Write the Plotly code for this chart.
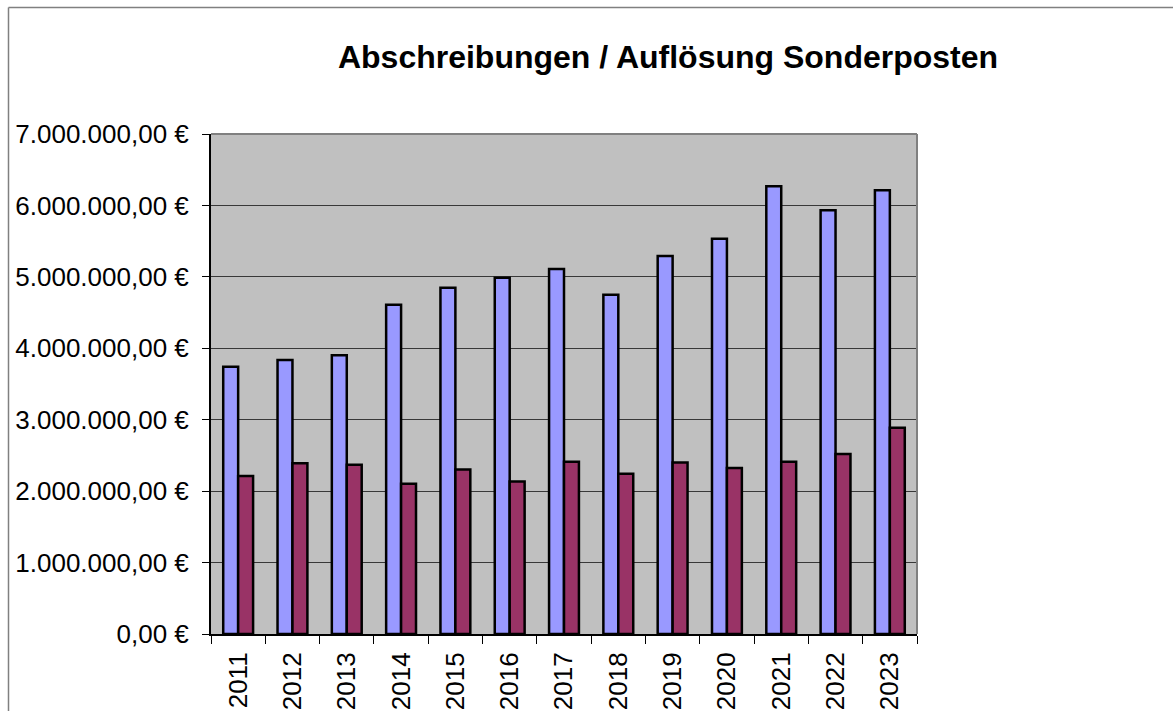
import plotly.graph_objects as go

years = ["2011", "2012", "2013", "2014", "2015", "2016", "2017", "2018", "2019", "2020", "2021", "2022", "2023"]
abschreibungen = [3743000, 3837000, 3904000, 4608000, 4849000, 4986000, 5109000, 4749000, 5293000, 5534000, 6267000, 5931000, 6214000]
aufloesung = [2212000, 2391000, 2368000, 2103000, 2302000, 2136000, 2410000, 2245000, 2401000, 2325000, 2410000, 2519000, 2888000]
y_ticks = [0, 1000000, 2000000, 3000000, 4000000, 5000000, 6000000, 7000000]
title_text = "Abschreibungen / Auflösung Sonderposten"


def euro(v):
    s = f"{v:,.2f}"
    s = s.replace(",", "X").replace(".", ",").replace("X", ".")
    return s + " €"


y_labels = [euro(v) for v in y_ticks]

W, H = 1173, 711
L, R, T, B = 211, 917, 134, 634


def px(x):
    return (x - L) / (R - L)


def py(y):
    return (B - y) / (B - T)


font_family = "Liberation Sans, Arial, sans-serif"

fig = go.Figure()
fig.add_trace(go.Bar(x=years, y=abschreibungen, name="Abschreibungen",
                     marker=dict(color="#9999ff", line=dict(color="#000000", width=2.5))))
fig.add_trace(go.Bar(x=years, y=aufloesung, name="Auflösung Sonderposten",
                     marker=dict(color="#993366", line=dict(color="#000000", width=2.5))))

fig.update_layout(
    width=W, height=H,
    autosize=False,
    margin=dict(l=L, r=W - R, t=T, b=H - B, pad=0, autoexpand=False),
    paper_bgcolor="#ffffff",
    plot_bgcolor="#c0c0c0",
    barmode="group",
    bargap=0.45,
    bargroupgap=0,
    showlegend=False,
    font=dict(family=font_family, color="#000000", size=26),
    title=dict(text="<b>" + title_text + "</b>", x=668 / W, y=1 - 57 / H,
               xanchor="center", yanchor="middle", xref="container", yref="container",
               automargin=False,
               font=dict(size=32, family=font_family, color="#000000")),
)

fig.update_yaxes(
    range=[0, 7000000], tickvals=y_ticks, ticktext=y_labels,
    showgrid=True, gridcolor="#383838", gridwidth=1,
    showline=True, linecolor="#000000", linewidth=2,
    ticks="outside", ticklen=7, tickcolor="#000000", tickwidth=1,
    ticklabelstandoff=8, automargin=False,
    tickfont=dict(size=26, family=font_family, color="#000000"),
    zeroline=False, fixedrange=True,
)
fig.update_xaxes(
    type="category", tickangle=-90, tickson="boundaries",
    showline=True, linecolor="#000000", linewidth=2,
    ticks="outside", ticklen=8, tickcolor="#000000", tickwidth=1,
    ticklabelstandoff=6, automargin=False,
    tickfont=dict(size=26, family=font_family, color="#000000"),
    showgrid=False, fixedrange=True,
)

# plot-area border (top and right), gray
fig.add_shape(type="line", xref="paper", yref="paper", x0=0, x1=1, y0=1, y1=1,
              line=dict(color="#808080", width=2), layer="above")
fig.add_shape(type="line", xref="paper", yref="paper", x0=1, x1=1, y0=0, y1=1,
              line=dict(color="#808080", width=2), layer="above")
# outer chart frame (top and left visible)
fig.add_shape(type="line", xref="paper", yref="paper", x0=px(8.5), x1=px(1173), y0=py(7.5), y1=py(7.5),
              line=dict(color="#808080", width=1.5), layer="above")
fig.add_shape(type="line", xref="paper", yref="paper", x0=px(8.5), x1=px(8.5), y0=py(7.5), y1=py(711),
              line=dict(color="#808080", width=1.5), layer="above")

fig.write_html(
    "out.html",
    config={"displayModeBar": False},
    post_script="document.body.style.margin='0';document.body.style.overflow='hidden';",
)
